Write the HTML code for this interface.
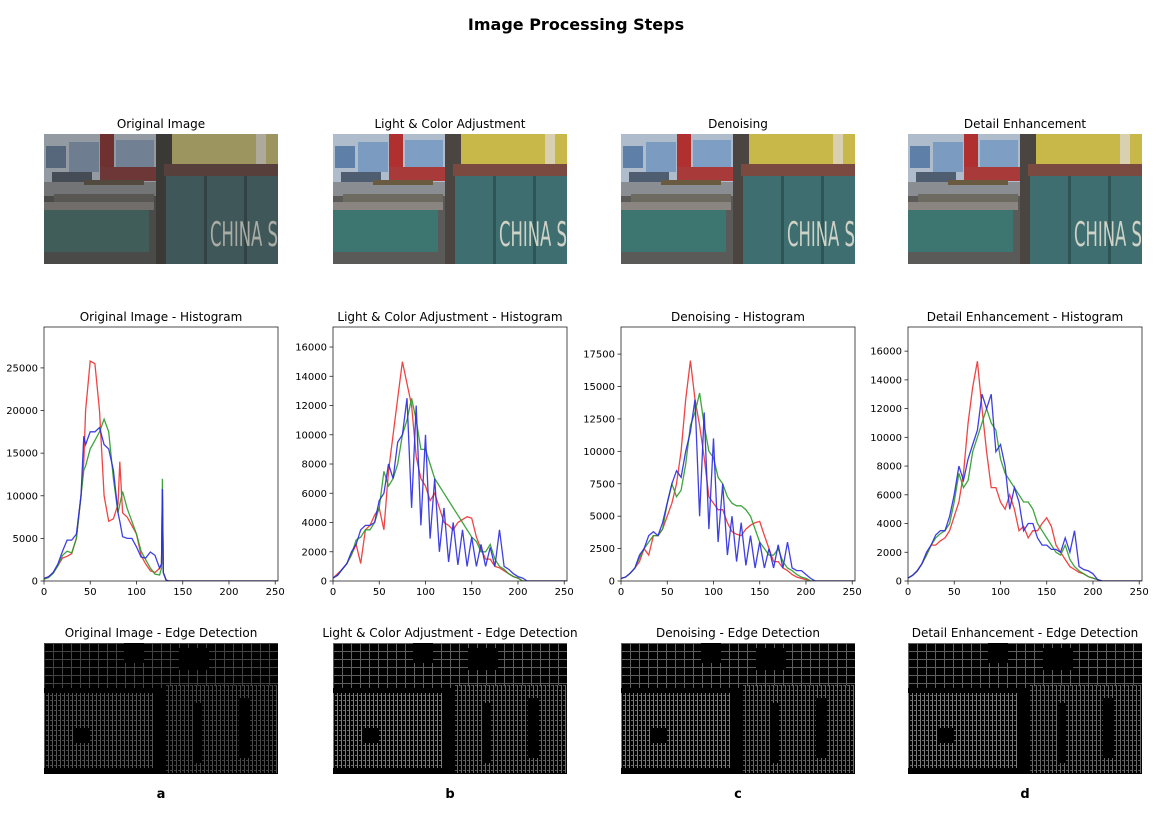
<!DOCTYPE html>
<html><head><meta charset="utf-8"><style>
body{margin:0;background:#fff;width:1156px;height:818px;overflow:hidden;font-family:"DejaVu Sans","Liberation Sans",sans-serif;}
svg text{font-family:"DejaVu Sans","Liberation Sans",sans-serif;}
</style></head><body>
<svg id="fig" width="1156" height="818" viewBox="0 0 1156 818" xmlns="http://www.w3.org/2000/svg">
<defs>
<g id="photo">
<rect width="234" height="130" fill="#5a5a58"/>
<rect x="0" y="0" width="112" height="50" fill="#aebccb"/>
<rect x="2" y="12" width="20" height="22" fill="#5e7fa8"/>
<rect x="25" y="8" width="30" height="30" fill="#7b9cc0"/>
<rect x="72" y="6" width="38" height="30" fill="#7e9fc3"/>
<rect x="8" y="38" width="40" height="10" fill="#4e5e70"/>
<rect x="56" y="0" width="14" height="45" fill="#b03030"/>
<rect x="56" y="33" width="60" height="14" fill="#a83a3a"/>
<rect x="0" y="48" width="112" height="14" fill="#8a8d92"/>
<rect x="40" y="46" width="60" height="5" fill="#6a5a40"/>
<rect x="10" y="60" width="100" height="8" fill="#6d6a62"/>
<rect x="0" y="68" width="110" height="8" fill="#8a8580"/>
<rect x="0" y="76" width="105" height="42" fill="#3d7670"/>
<rect x="112" y="0" width="16" height="130" fill="#4a4540"/>
<rect x="128" y="0" width="106" height="30" fill="#c8b84a"/>
<rect x="212" y="0" width="10" height="30" fill="#d8d0b0"/>
<rect x="120" y="30" width="114" height="12" fill="#7a4a40"/>
<rect x="122" y="42" width="112" height="88" fill="#3e6e70"/>
<rect x="160" y="42" width="3" height="88" fill="#2e5456"/>
<rect x="200" y="42" width="3" height="88" fill="#2e5456"/>
<text x="166" y="112" font-size="34" fill="#cfd2c6" textLength="68" lengthAdjust="spacingAndGlyphs">CHINA S</text>
</g>
<pattern id="edgeV" width="4" height="5" patternUnits="userSpaceOnUse"><rect width="4" height="5" fill="#000"/><rect x="0" y="0" width="1" height="5" fill="#8a8a8a"/><rect x="2" y="2" width="2" height="1" fill="#777"/></pattern>
<pattern id="edgeS" width="9" height="8" patternUnits="userSpaceOnUse"><rect width="9" height="8" fill="#000"/><rect x="0" y="0" width="9" height="1" fill="#888"/><rect x="0" y="0" width="1" height="8" fill="#888"/></pattern>
<g id="edges">
<rect width="234" height="131" fill="#000"/>
<rect x="0" y="0" width="234" height="45" fill="url(#edgeS)" opacity="0.7"/>
<rect x="0" y="50" width="110" height="75" fill="url(#edgeV)" opacity="0.9"/>
<rect x="122" y="42" width="112" height="88" fill="url(#edgeV)" opacity="0.75"/>
<rect x="80" y="0" width="20" height="20" fill="#000"/>
<rect x="135" y="5" width="30" height="22" fill="#000"/>
<rect x="30" y="85" width="15" height="15" fill="#000"/>
<rect x="150" y="60" width="8" height="60" fill="#000"/>
<rect x="195" y="55" width="10" height="60" fill="#000"/>
</g>
</defs>
<text x="576" y="30" text-anchor="middle" font-size="16" font-weight="bold">Image Processing Steps</text>
<g id="panels"></g>
</svg>
<script>
// Histogram data (bin intensity, pixel counts)
const titles = ["Original Image","Light & Color Adjustment","Denoising","Detail Enhancement"];
const panelLetters = ["a","b","c","d"];
const xTicks = [0,50,100,150,200,250];
const yTicksA = [0,5000,10000,15000,20000,25000];
const yTicksB = [0,2000,4000,6000,8000,10000,12000,14000,16000];
const yTicksC = [0,2500,5000,7500,10000,12500,15000,17500];
const yTicksD = [0,2000,4000,6000,8000,10000,12000,14000,16000];
const yMaxes = [29800,17370,19590,17680];

const binsA = [0,5,10,15,20,25,30,35,40,43,45,50,55,60,65,70,75,80,82,85,90,95,100,105,110,115,120,125,127,128,129,132,135,150,200,255];
const redA = [300,500,1000,1800,2700,2900,3200,5000,10000,14000,20000,25800,25500,20000,10000,7000,7300,9000,14000,8000,7500,6500,5500,3000,2000,1200,1000,1500,2000,10000,1000,100,0,0,0,0];
const greenA = [200,400,900,1800,3000,3500,3300,5000,10000,13000,13500,15500,16500,17500,19000,17500,12000,8000,9000,10500,8500,7000,5500,3500,2500,1500,800,700,1500,12000,1000,100,0,0,0,0];
const blueA = [300,500,1000,2000,3500,4800,4800,5500,10000,17000,16000,17500,17500,18000,16000,15500,13000,8000,7000,5200,5000,5000,4000,2800,2700,3400,3000,1500,2000,10800,1000,100,0,0,0,0];

const binsGrid = [0,5,10,15,20,25,30,35,40,45,50,55,60,65,70,75,80,85,90,95,100,105,110,115,120,125,130,135,140,145,150,155,160,165,170,175,180,185,190,195,200,205,210,215,255];
const redB = [200,500,800,1200,1800,2500,1200,3500,3800,4500,5000,3500,7500,10000,12500,15000,13500,12000,8500,7000,6500,5500,6000,5000,4000,3800,3500,4000,4200,4400,4300,3000,2200,1500,1500,1000,900,700,500,300,200,0,0,0,0];
const greenB = [200,400,800,1200,1800,2800,3000,3500,3500,4000,5000,7500,6500,7000,8000,10000,11000,12500,11000,9000,9000,8000,7000,6500,6000,5500,5000,4500,4000,3500,3000,2700,2000,2000,2500,1500,1000,800,500,300,200,0,0,0,0];
const blueB = [200,400,800,1200,2000,2500,3500,3800,3800,4000,5500,6000,8000,7000,9500,10000,12500,5000,12000,3800,10000,2900,7000,2000,5000,1300,4000,1100,3500,1000,3000,1000,2500,1000,2300,1000,3500,1000,800,500,300,200,0,0,0];
const redC = [200,300,600,1000,1500,2500,2000,3500,3500,4000,5000,6000,7500,10000,14000,17000,14000,12000,9500,6500,6000,5500,5500,4500,3800,3600,3500,4000,4300,4500,4600,3500,2500,1500,1500,1000,800,500,300,200,100,0,0,0,0];
const greenC = [200,300,600,1000,1800,2500,3000,3500,3500,4000,6000,7500,6500,7000,9000,12000,13000,14500,12000,10000,9500,8000,7500,6500,6000,5800,5800,5500,5000,4000,3000,2500,2000,2000,2500,1500,1000,800,500,300,200,0,0,0,0];
const blueC = [200,300,600,1000,2000,2500,3500,3800,3500,4500,6000,7500,8500,8000,10000,11500,14000,5000,13000,4000,11000,3000,7500,2000,5000,1500,4500,1200,3500,1000,3000,1000,2500,1000,2800,1000,3000,1000,800,800,500,200,0,0,0];
const redD = [200,400,700,1200,1800,2500,2500,2800,3000,3500,4500,5500,7500,11000,13500,15300,12000,9000,6500,6500,5500,5000,6000,5000,3500,3800,3000,3500,3500,4000,4400,3800,2500,2000,1500,1000,800,600,500,300,200,100,0,0,0];
const greenD = [200,400,700,1200,1800,2500,3000,3300,3500,4000,5500,7500,6500,7000,9000,10000,11000,12000,11000,10500,8500,7500,7000,6500,6000,5500,5500,5000,4000,3500,3000,2500,2000,1800,2500,1500,1000,700,500,300,200,100,0,0,0];
const blueD = [200,400,700,1200,2000,2500,3200,3500,3500,4500,6000,8000,7000,8500,9500,10500,13000,12000,13000,9000,9500,8000,5000,6500,5500,3500,4000,4000,3000,2500,2500,2200,2200,2000,3000,2000,3500,1000,800,700,500,100,0,0,0];

const binsAll = [binsA,binsGrid,binsGrid,binsGrid];
const seriesAll = [[redA,greenA,blueA],[redB,greenB,blueB],[redC,greenC,blueC],[redD,greenD,blueD]];
const yTicksAll = [yTicksA,yTicksB,yTicksC,yTicksD];
const colors = ["#ee3030","#2a9a2a","#2a2ae0"];
const colNames = ["red","green","blue"];

const NS="http://www.w3.org/2000/svg";
const root=document.getElementById("panels");
const lefts=[44,333,621,908], W=234;
function mk(tag,attrs,parent){const e=document.createElementNS(NS,tag);for(const k in attrs)e.setAttribute(k,attrs[k]);(parent||root).appendChild(e);return e;}

for(let p=0;p<4;p++){
  const L=lefts[p];
  const g=mk("g",{});
  
  
  let t=mk("text",{x:L+W/2,y:128,"text-anchor":"middle","font-size":"12"},g);t.textContent=titles[p];
  
  
  const ph=mk("use",{href:"#photo",x:L,y:134},g);
  if(p===0)ph.setAttribute("style","filter:saturate(0.6) brightness(0.82)");
  
  
  const top=327,bot=581,ymax=yMaxes[p];
  const X=v=>L+v/253*W, Y=v=>bot-v/ymax*(bot-top);
  t=mk("text",{x:L+W/2,y:321,"text-anchor":"middle","font-size":"12"},g);t.textContent=titles[p]+" - Histogram";
  
  
  const hg=mk("g",{},g);
  
  
  const clip=mk("clipPath",{id:"cp"+p},hg);mk("rect",{x:L,y:top,width:W,height:bot-top},clip);
  const bins=binsAll[p];
  seriesAll[p].forEach((s,i)=>{
    let d="";s.forEach((v,j)=>{d+=(j?"L":"M")+X(bins[j]).toFixed(1)+","+Y(v).toFixed(1);});
    d+="L"+X(255).toFixed(1)+","+Y(0).toFixed(1);
    const pa=mk("path",{d:d,fill:"none",stroke:colors[i],"stroke-width":"1.3","stroke-opacity":"0.9","clip-path":"url(#cp"+p+")"},hg);
    
    
  });
  const box=mk("rect",{x:L,y:top,width:W,height:bot-top,fill:"none",stroke:"#222","stroke-width":"0.8"},hg);
  
  
  xTicks.forEach(v=>{mk("line",{x1:X(v),x2:X(v),y1:bot,y2:bot+3.5,stroke:"#222","stroke-width":"0.8"},hg);
    const tt=mk("text",{x:X(v),y:bot+14,"text-anchor":"middle","font-size":"10"},hg);tt.textContent=v;
    
    });
  yTicksAll[p].forEach(v=>{mk("line",{x1:L-3.5,x2:L,y1:Y(v),y2:Y(v),stroke:"#222","stroke-width":"0.8"},hg);
    const tt=mk("text",{x:L-6,y:Y(v)+3.5,"text-anchor":"end","font-size":"10"},hg);tt.textContent=v;
    
    });
  t=mk("text",{x:L+W/2,y:637,"text-anchor":"middle","font-size":"12"},g);t.textContent=titles[p]+" - Edge Detection";
  
  
  const ed=mk("use",{href:"#edges",x:L,y:643},g);
  
  
  if(p===0){const dk=mk("rect",{x:L,y:643,width:W,height:131,fill:"#000",opacity:"0.3"},g);
    
    }
  t=mk("text",{x:L+W/2,y:798,"text-anchor":"middle","font-size":"13","font-weight":"bold"},g);t.textContent=panelLetters[p];
  
  
}
</script>
</body></html>
